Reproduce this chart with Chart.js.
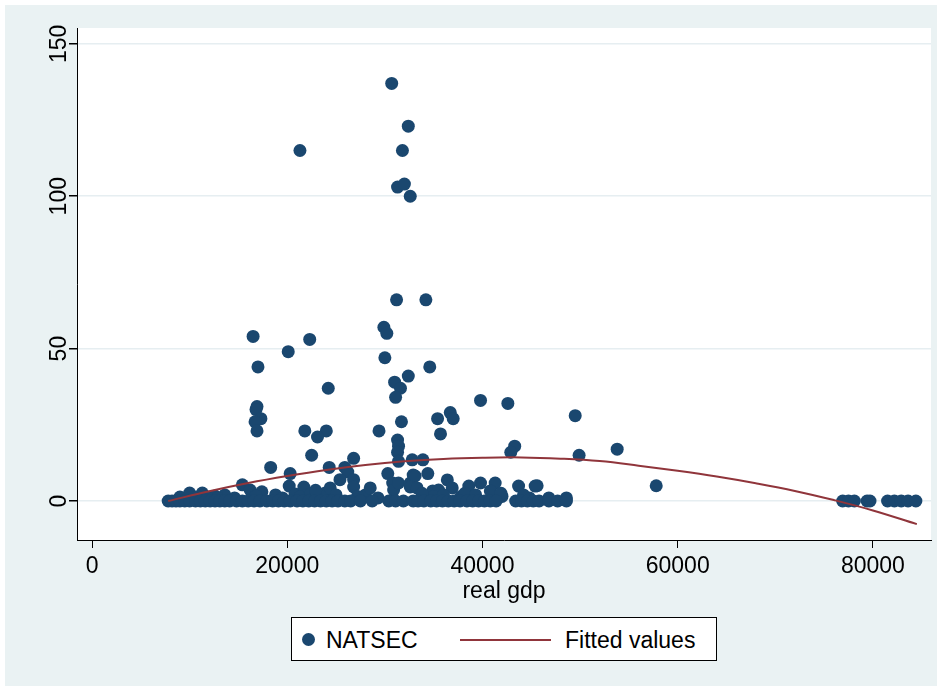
<!DOCTYPE html>
<html>
<head>
<meta charset="utf-8">
<script src="https://cdn.jsdelivr.net/npm/chart.js@4/dist/chart.umd.min.js"></script>
<style>
  html, body { margin: 0; padding: 0; background: #ffffff; }
  #wrap { position: relative; width: 942px; height: 691px; }
  #legend {
    position: absolute; left: 291px; top: 617px; width: 424px; height: 42px;
    border: 1px solid #000; background: #fff;
    font-family: "Liberation Sans", Arial, sans-serif; font-size: 23px; color: #000;
  }
  #legend span { position: absolute; top: 9px; line-height: 26px; }
  #legend .dot { position: absolute; left: 10px; top: 15px; width: 13px; height: 13px; border-radius: 50%; }
  #legend .ln { position: absolute; left: 168px; top: 21px; width: 91px; height: 2px; }
</style>
</head>
<body>
<div id="wrap">
  <canvas id="chart" width="942" height="691"></canvas>
  <div id="legend">
    <div class="dot" id="legDot"></div>
    <span id="legA" style="left:34px"></span>
    <div class="ln" id="legLine"></div>
    <span id="legB" style="left:273px"></span>
  </div>
</div>
<script>
const seriesNames = ['NATSEC', 'Fitted values'];
const xTitle = 'real gdp';
const xTicks = [0, 20000, 40000, 60000, 80000];
const yTicks = [0, 50, 100, 150];

// NATSEC scatter: real gdp (x) and NATSEC (y)
const gdp = [
  30700, 32400, 21300, 31800, 31300, 32000, 32600, 31200, 34200, 16500,
  22300, 20100, 29900, 30200, 30000, 34600, 17000, 24200, 32400, 31000,
  31600, 31100, 39800, 42600, 16900, 16800, 17300, 16700, 16900, 35400,
  36700, 37000, 31700, 49500, 35700, 29400, 21800, 24000, 23100, 31300,
  31400, 31300, 31400, 43300, 42900, 53800, 49900, 57800, 22500, 18300,
  26800, 24300, 32800, 33900, 20300, 25900, 26200, 30300, 34400, 25400,
  26800, 26800, 45600, 48600,
  9000, 10000, 11300, 12600, 13600, 15400, 16200, 17400, 16800, 18800,
  20200, 20800, 21700, 21300, 22400, 23200, 23900, 24400, 28000, 28500,
  30800, 30900, 31400, 32600, 32900, 33100, 32600, 33300, 34900, 35500,
  36400, 36900, 38600, 39800, 41300, 40800, 43700, 45400, 46800, 14600,
  19500, 11800, 37800, 42000, 44800, 29300, 27200, 25000, 22900, 38200,
  39300, 41900, 44200, 35000, 36000, 33800, 10500, 12900,
  7800, 8200, 8600, 9000, 9500, 10000, 10600, 11100, 11600, 12100,
  12600, 13100, 13600, 14100, 14800, 15400, 16000, 16600, 17200, 17900,
  18500, 19100, 19700, 20300, 21000, 21600, 22200, 22800, 23400, 24000,
  24600, 25200, 25900, 26500,
  27500, 28700, 30400, 31100, 31900, 32900, 33400, 34000, 34700, 35300,
  35900, 36500, 37100, 37700, 38400, 39000, 39600, 40200, 40800, 41400,
  43400, 44000, 44600, 45200, 45800, 46800, 47700, 48600,
  76900, 77500, 78100, 79400, 79700, 81500, 82200, 82900, 83600, 84400
];
const natsec = [
  137, 123, 115, 115, 103, 104, 100, 66, 66, 54,
  53, 49, 57, 55, 47, 44, 44, 37, 41, 39,
  37, 34, 33, 32, 31, 30, 27, 26, 23, 27,
  29, 27, 26, 28, 22, 23, 23, 23, 21, 20,
  18, 16, 13, 18, 16, 17, 15, 5, 15, 11,
  14, 11, 13.5, 13.5, 9, 11, 9.5, 9, 9, 7,
  7, 4.6, 5, 1,
  1.3, 2.6, 2.6, 1.6, 2, 5.3, 3.6, 3, 1.6, 2,
  4.9, 2.3, 4.6, 1.3, 2.3, 1.6, 2.6, 4.3, 2, 4.3,
  5.9, 3.6, 5.9, 5.9, 8.5, 8.2, 4.6, 4.3, 3.3, 3.6,
  6.9, 4.3, 4.9, 5.9, 5.9, 3.3, 4.9, 4.9, 1, 1,
  1, 1.2, 1.5, 1.5, 1, 1, 1.5, 2, 3.5, 2.5,
  2, 2.5, 2, 1.5, 2, 2.5, 1, 1,
  0, 0, 0, 0, 0, 0, 0, 0, 0, 0,
  0, 0, 0, 0, 0, 0, 0, 0, 0, 0,
  0, 0, 0, 0, 0, 0, 0, 0, 0, 0,
  0, 0, 0, 0,
  0, 0, 0, 0, 0, 0, 0, 0, 0, 0,
  0, 0, 0, 0, 0, 0, 0, 0, 0, 0,
  0, 0, 0, 0, 0, 0, 0, 0,
  0, 0, 0, 0, 0, 0, 0, 0, 0, 0
];

// fitted curve
const fitX = [7800, 12000, 16000, 20000, 24000, 28000, 32000, 36000, 40000, 44000,
  48000, 52000, 56000, 60000, 64000, 68000, 72000, 76000, 80000, 84500];
const fitY = [0, 3.2, 5.9, 8.2, 10.2, 11.8, 13.0, 13.8, 14.2, 14.3,
  13.9, 13.1, 11.6, 9.9, 8.0, 5.8, 3.3, 0.3, -3.1, -7.6];

const markerColor = '#1a476f';
const lineColor = '#90353b';
const FONT = '"Liberation Sans", Arial, sans-serif';

document.getElementById('legDot').style.background = markerColor;
document.getElementById('legLine').style.background = lineColor;
document.getElementById('legA').textContent = seriesNames[0];
document.getElementById('legB').textContent = seriesNames[1];

const bgPlugin = {
    id: 'bg',
    beforeDraw(chart) {
        const {ctx, chartArea: a} = chart;
        ctx.save();
        ctx.fillStyle = '#ffffff';
        ctx.fillRect(0, 0, chart.width, chart.height);
        ctx.fillStyle = '#eaf2f3';
        ctx.fillRect(5, 5, 932, 681);
        ctx.fillStyle = '#ffffff';
        ctx.fillRect(a.left, a.top, a.right - a.left, a.bottom - a.top);
        ctx.restore();
    },
    afterDraw(chart) {
        // rotated y tick labels, Stata style
        const {ctx} = chart;
        const y = chart.scales.y;
        ctx.save();
        ctx.fillStyle = '#000';
        ctx.font = '23px ' + FONT;
        ctx.textAlign = 'center';
        ctx.textBaseline = 'middle';
        yTicks.forEach(v => {
            ctx.save();
            ctx.translate(60, y.getPixelForValue(v));
            ctx.rotate(-Math.PI / 2);
            ctx.fillText(String(v), 0, 0);
            ctx.restore();
        });
        ctx.restore();
    }
};

new Chart(document.getElementById('chart').getContext('2d'), {
    type: 'scatter',
    data: {
        datasets: [{
            type: 'line',
            label: seriesNames[1],
            data: fitX.map((x, i) => ({x: x, y: fitY[i]})),
            borderColor: lineColor,
            borderWidth: 2,
            pointRadius: 0,
            tension: 0.4,
            fill: false,
            order: 0
        }, {
            label: seriesNames[0],
            data: gdp.map((x, i) => ({x: x, y: natsec[i]})),
            backgroundColor: markerColor,
            borderWidth: 0,
            pointRadius: 6.5,
            order: 1
        }]
    },
    options: {
        responsive: false,
        animation: false,
        layout: { padding: { left: 5, top: 28, right: 11, bottom: 86 } },
        plugins: { legend: { display: false }, tooltip: { enabled: false } },
        scales: {
            x: {
                type: 'linear',
                min: -1540,
                max: 85950,
                afterBuildTicks: s => { s.ticks = xTicks.map(v => ({value: v})); },
                afterFit: s => { s.height = 65; },
                ticks: {
                    color: '#000',
                    font: { family: FONT, size: 23 },
                    padding: 5,
                    maxRotation: 0,
                    autoSkip: false,
                    callback: v => String(v)
                },
                grid: { drawOnChartArea: false, tickLength: 8, tickColor: '#000', lineWidth: 1 },
                border: { color: '#000', width: 1 },
                title: { display: true, text: xTitle, color: '#000', font: { family: FONT, size: 23 }, padding: 0 }
            },
            y: {
                type: 'linear',
                min: -12.8,
                max: 155.2,
                afterBuildTicks: s => { s.ticks = yTicks.map(v => ({value: v})); },
                afterFit: s => { s.width = 72; },
                ticks: { display: false },
                grid: { color: '#e6eef1', lineWidth: 1.5, tickLength: 8, tickColor: '#000' },
                border: { color: '#000', width: 1 }
            }
        }
    },
    plugins: [bgPlugin]
});
</script>
</body>
</html>
